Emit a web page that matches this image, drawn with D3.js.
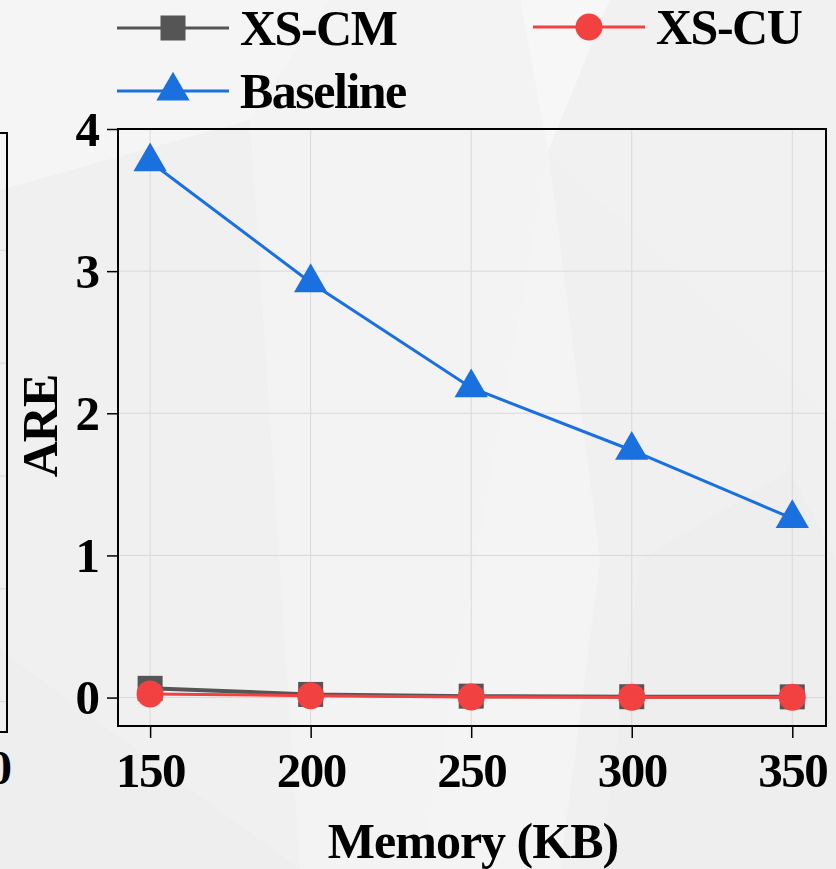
<!DOCTYPE html>
<html>
<head>
<meta charset="utf-8">
<script src="https://cdn.jsdelivr.net/npm/d3@7"></script>
<style>
  body { margin: 0; background: #efefef; }
  svg { display: block; font-family: "Liberation Serif", "Times New Roman", serif; font-weight: bold; }
</style>
</head>
<body>
<div id="chart"></div>
<script>
// Data
var memory = [150, 200, 250, 300, 350];
var xsCM = [0.065, 0.022, 0.010, 0.006, 0.005];
var xsCU = [0.026, 0.013, 0.004, 0.003, 0.003];
var baseline = [3.77, 2.92, 2.18, 1.74, 1.26];
var yTicks = [0, 1, 2, 3, 4];
var seriesNames = ["XS-CM", "XS-CU", "Baseline"];

// neighbour panel (only its right edge is visible)
var leftGrid = [0, 1, 2, 3, 4];

var svgWidth = 836;
var svgHeight = 869;

var margin = { top: 129, right: 10, bottom: 143, left: 118 };
var width = svgWidth - margin.left - margin.right;
var height = svgHeight - margin.top - margin.bottom;

var svg = d3.select("#chart")
    .append("svg")
    .attr("width", svgWidth)
    .attr("height", svgHeight);

// Background shards (very faint)
var bg = svg.append("g");
bg.append("rect").attr("width", svgWidth).attr("height", svgHeight).attr("fill", "#f0f0f0");
var shards = [
    { pts: [[0, 0], [330, 0], [250, 120], [0, 190]], fill: "#f5f5f5" },
    { pts: [[330, 0], [520, 0], [548, 152], [420, 869], [300, 869], [250, 120]], fill: "#f3f3f3" },
    { pts: [[520, 0], [610, 0], [548, 152]], fill: "#f7f7f7" },
    { pts: [[610, 0], [836, 0], [836, 420], [548, 152]], fill: "#f1f1f1" },
    { pts: [[0, 650], [300, 869], [0, 869]], fill: "#eeeeee" },
    { pts: [[640, 560], [790, 470], [836, 560], [836, 869], [600, 869]], fill: "#eeeeee" },
    { pts: [[420, 869], [548, 152], [600, 560], [560, 869]], fill: "#f4f4f4" }
];
bg.selectAll("polygon")
    .data(shards)
    .enter()
    .append("polygon")
    .attr("points", d => d.pts.map(p => p.join(",")).join(" "))
    .attr("fill", d => d.fill);

// Neighbour panel edge
var leftY = d3.scaleLinear().domain([-0.27, 5.04]).range([732, 133]);
var leftPanel = svg.append("g");
leftPanel.selectAll("line.lgrid")
    .data(leftGrid)
    .enter()
    .append("line")
    .attr("x1", 0).attr("x2", 7)
    .attr("y1", d => leftY(d)).attr("y2", d => leftY(d))
    .attr("stroke", "#d8d8d8").attr("stroke-width", 1);
leftPanel.append("path")
    .attr("d", "M0,133H7V732H0")
    .attr("fill", "none")
    .attr("stroke", "black")
    .attr("stroke-width", 2);
leftPanel.append("text")
    .attr("x", 12).attr("y", 784)
    .attr("text-anchor", "end")
    .attr("font-size", "48px")
    .text("0");

var chartGroup = svg.append("g")
    .attr("transform", `translate(${margin.left}, ${margin.top})`);

var xScale = d3.scaleLinear().domain([140, 360.5]).range([0, width]);
var yScale = d3.scaleLinear().domain([-0.2, 4]).range([height, 0]);

// Grid
chartGroup.selectAll("line.xgrid")
    .data(memory)
    .enter()
    .append("line")
    .attr("x1", d => xScale(d)).attr("x2", d => xScale(d))
    .attr("y1", 0).attr("y2", height)
    .attr("stroke", "#d9d9d9").attr("stroke-width", 1);
chartGroup.selectAll("line.ygrid")
    .data(yTicks)
    .enter()
    .append("line")
    .attr("x1", 0).attr("x2", width)
    .attr("y1", d => yScale(d)).attr("y2", d => yScale(d))
    .attr("stroke", "#d9d9d9").attr("stroke-width", 1);

// Axes
var bottomAxis = d3.axisBottom(xScale).tickValues(memory).tickFormat(d3.format("d"))
    .tickSize(12).tickPadding(14).tickSizeOuter(0);
var leftAxis = d3.axisLeft(yScale).tickValues(yTicks).tickFormat(d3.format("d"))
    .tickSize(11).tickPadding(7).tickSizeOuter(0);

var xAxisG = chartGroup.append("g")
    .attr("transform", `translate(0, ${height})`)
    .call(bottomAxis);
var yAxisG = chartGroup.append("g")
    .call(leftAxis);

[xAxisG, yAxisG].forEach(g => {
    g.select(".domain").remove();
    g.selectAll("line").attr("stroke", "black").attr("stroke-width", 1.5);
    g.selectAll("text")
        .attr("font-family", "Liberation Serif")
        .attr("font-weight", "bold")
        .attr("font-size", "49px")
        .attr("fill", "black");
});
xAxisG.selectAll("text").attr("dy", "0.71em").attr("letter-spacing", "-1.5px");
yAxisG.selectAll("text").attr("dy", "0.33em");

// Frame
chartGroup.append("rect")
    .attr("width", width).attr("height", height)
    .attr("fill", "none")
    .attr("stroke", "black")
    .attr("stroke-width", 2);

// Lines + markers
var colors = { "XS-CM": "#555555", "XS-CU": "#f24141", "Baseline": "#1b70e0" };
var line = d3.line()
    .x((d, i) => xScale(memory[i]))
    .y(d => yScale(d));

chartGroup.append("path")
    .datum(baseline)
    .attr("d", line)
    .attr("fill", "none")
    .attr("stroke", colors["Baseline"])
    .attr("stroke-width", 3);
chartGroup.selectAll("path.tri")
    .data(baseline)
    .enter()
    .append("path")
    .attr("d", d3.symbol().type(d3.symbolTriangle).size(480))
    .attr("transform", (d, i) => `translate(${xScale(memory[i])}, ${yScale(d)})`)
    .attr("fill", colors["Baseline"]);

chartGroup.append("path")
    .datum(xsCM)
    .attr("d", line)
    .attr("fill", "none")
    .attr("stroke", colors["XS-CM"])
    .attr("stroke-width", 4);
chartGroup.selectAll("rect.sq")
    .data(xsCM)
    .enter()
    .append("rect")
    .attr("x", (d, i) => xScale(memory[i]) - 12.5)
    .attr("y", d => yScale(d) - 12.5)
    .attr("width", 25).attr("height", 25)
    .attr("fill", colors["XS-CM"]);

chartGroup.append("path")
    .datum(xsCU)
    .attr("d", line)
    .attr("fill", "none")
    .attr("stroke", colors["XS-CU"])
    .attr("stroke-width", 3);
chartGroup.selectAll("circle")
    .data(xsCU)
    .enter()
    .append("circle")
    .attr("cx", (d, i) => xScale(memory[i]))
    .attr("cy", d => yScale(d))
    .attr("r", 13.5)
    .attr("fill", colors["XS-CU"]);

// Axis labels
svg.append("text")
    .attr("x", 473).attr("y", 858)
    .attr("text-anchor", "middle")
    .attr("font-size", "50px")
    .attr("letter-spacing", "-1px")
    .text("Memory (KB)");

svg.append("text")
    .attr("transform", "translate(57, 426) rotate(-90)")
    .attr("text-anchor", "middle")
    .attr("font-size", "50px")
    .attr("letter-spacing", "-1px")
    .text("ARE");

// Legend
var legendPos = [
    { name: "XS-CM", x: 117, y: 28 },
    { name: "XS-CU", x: 533, y: 27 },
    { name: "Baseline", x: 117, y: 91 }
];
var legend = svg.append("g");
legendPos.forEach(p => {
    var g = legend.append("g").attr("transform", `translate(${p.x}, ${p.y})`);
    g.append("line")
        .attr("x1", 0).attr("x2", 112)
        .attr("stroke", colors[p.name]).attr("stroke-width", 3);
    if (p.name === "XS-CM") {
        g.append("rect").attr("x", 56 - 12.5).attr("y", -12.5).attr("width", 25).attr("height", 25)
            .attr("fill", colors[p.name]);
    } else if (p.name === "XS-CU") {
        g.append("circle").attr("cx", 56).attr("r", 13.5).attr("fill", colors[p.name]);
    } else {
        g.append("path")
            .attr("d", d3.symbol().type(d3.symbolTriangle).size(480))
            .attr("transform", "translate(56, 0)")
            .attr("fill", colors[p.name]);
    }
    g.append("text")
        .attr("x", 123).attr("y", 17)
        .attr("font-size", "50px")
        .attr("letter-spacing", "-1.5px")
        .text(p.name);
});
</script>
</body>
</html>
